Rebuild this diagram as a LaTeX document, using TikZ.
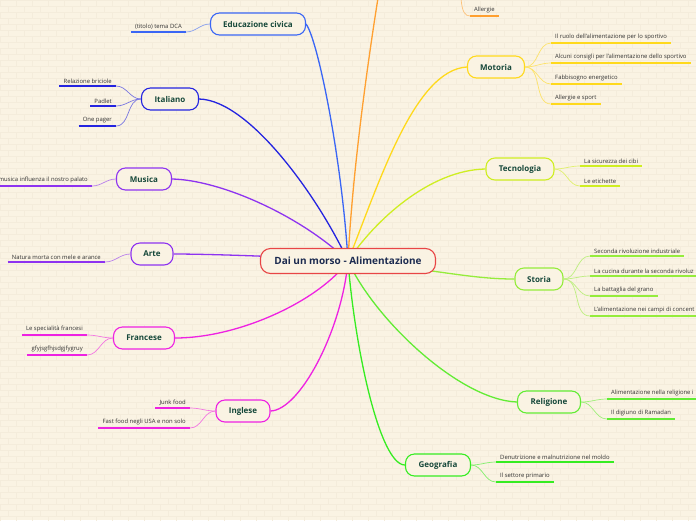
\documentclass[tikz,border=0pt]{standalone}
\usepackage{fontspec}
\setmainfont{Open Sans}
\definecolor{bg}{HTML}{FAF3E3}
\definecolor{brick}{HTML}{F4ECDB}
\definecolor{cRed}{HTML}{E84545}
\definecolor{cEdu}{HTML}{3A66F5}
\definecolor{cIta}{HTML}{2424E0}
\definecolor{cMus}{HTML}{8E33F0}
\definecolor{cFra}{HTML}{EE22E2}
\definecolor{cOra}{HTML}{FFA030}
\definecolor{cMot}{HTML}{FFD91C}
\definecolor{cTec}{HTML}{CFEE22}
\definecolor{cSto}{HTML}{95EC3C}
\definecolor{cRel}{HTML}{62EC34}
\definecolor{cGeo}{HTML}{36EC22}
\definecolor{lab}{HTML}{16483A}
\definecolor{ctxt}{HTML}{1C2B50}
\definecolor{leaftxt}{HTML}{333333}
\begin{document}
\begin{tikzpicture}[x=1pt,y=-1pt,
  topic/.style={draw=#1, line width=1.1pt, fill=bg, rounded corners=9pt, minimum height=22pt, inner xsep=4pt, font=\fontsize{8}{9}\selectfont\bfseries, text=lab},
  leaf/.style={inner xsep=4pt, inner ysep=2.4pt, font=\fontsize{5.9}{7}\selectfont, text=leaftxt},
  ul/.style={draw=#1, line width=1.7pt},
  br/.style={draw=#1, line width=1.3pt},
  tw/.style={draw=#1!60!bg, line width=0.7pt}
]
\fill[bg] (0,0) rectangle (696,520);
\useasboundingbox (0,0) rectangle (696,520);
\clip (0,0) rectangle (696,520);
% faint brick background
\foreach \r in {0,...,87} {
  \pgfmathsetmacro{\yy}{\r*6}
  \pgfmathsetmacro{\off}{mod(\r,2)*8}
  \draw[brick, line width=0.5pt] (0,\yy) -- (696,\yy);
  \foreach \k in {0,...,44} {
    \draw[brick, line width=0.5pt] (\k*16+\off,\yy) -- (\k*16+\off,\yy+6);
  }
}

\coordinate (cc) at (348,261);
\coordinate (ot) at (378,-2);
\coordinate (ao) at (461,-2);

% topics
\node[topic=cEdu, minimum width=95pt] (edu) at (258,24) {Educazione civica};
\node[topic=cIta, minimum width=57pt] (ita) at (170,99) {Italiano};
\node[topic=cMus, minimum width=55pt] (mus) at (144,179) {Musica};
\node[topic=cMus, minimum width=42pt] (art) at (152,254) {Arte};
\node[topic=cFra, minimum width=61pt] (fra) at (144,338) {Francese};
\node[topic=cFra, minimum width=54pt] (ing) at (243,411) {Inglese};
\node[topic=cMot, minimum width=57pt] (mot) at (496,67) {Motoria};
\node[topic=cTec, minimum width=68pt] (tec) at (520,169) {Tecnologia};
\node[topic=cSto, minimum width=48pt] (sto) at (539,279) {Storia};
\node[topic=cRel, minimum width=63pt] (rel) at (549,402) {Religione};
\node[topic=cGeo, minimum width=65pt] (geo) at (438,465) {Geografia};

% main branches
\draw[br=cEdu] (cc) .. controls (342,160) and (318,40) .. (edu.east);
\draw[br=cIta] (cc) .. controls (320,200) and (250,100) .. (ita.east);
\draw[br=cMus] (cc) .. controls (300,215) and (220,180) .. (mus.east);
\draw[br=cMus] (cc) .. controls (300,257) and (210,254) .. (art.east);
\draw[br=cFra] (cc) .. controls (320,300) and (240,338) .. (fra.east);
\draw[br=cFra] (cc) .. controls (342,330) and (300,410) .. (ing.east);
\draw[br=cOra] (cc) .. controls (352,180) and (365,80) .. (ot);
\draw[br=cMot] (cc) .. controls (380,180) and (415,70) .. (mot.west);
\draw[br=cTec] (cc) .. controls (375,220) and (430,170) .. (tec.west);
\draw[br=cSto] (cc) .. controls (440,270) and (470,279) .. (sto.west);
\draw[br=cRel] (cc) .. controls (375,320) and (460,400) .. (rel.west);
\draw[br=cGeo] (cc) .. controls (355,350) and (380,465) .. (geo.west);

\node[draw=cRed, line width=1.1pt, fill=bg, rounded corners=10pt, minimum width=175pt, minimum height=25pt, font=\fontsize{10}{12}\selectfont\bfseries, text=ctxt] (c) at (cc) {Dai un morso - Alimentazione};

% leaves left
\node[leaf, anchor=south east] (e1) at (186,32) {(titolo) tema DCA};
\node[leaf, anchor=south east] (i1) at (116,86) {Relazione briciole};
\node[leaf, anchor=south east] (i2) at (116,106) {Padlet};
\node[leaf, anchor=south east] (i3) at (116,126) {One pager};
\node[leaf, anchor=south east] (m1) at (92,186) {musica influenza il nostro palato};
\node[leaf, anchor=south east] (a1) at (105,262) {Natura morta con mele e arance};
\node[leaf, anchor=south east] (f1) at (87,335) {Le specialità francesi};
\node[leaf, anchor=south east] (f2) at (87,355) {gfyjsgfhjsdgjfygruy};
\node[leaf, anchor=south east] (n1) at (190,408) {Junk food};
\node[leaf, anchor=south east] (n2) at (190,428) {Fast food negli USA e non solo};

% leaves right
\node[leaf, anchor=south west] (al) at (470,16) {Allergie};
\node[leaf, anchor=south west] (o1) at (551,43) {Il ruolo dell'alimentazione per lo sportivo};
\node[leaf, anchor=south west] (o2) at (551,63) {Alcuni consigli per l'alimentazione dello sportivo};
\node[leaf, anchor=south west] (o3) at (551,84) {Fabbisogno energetico};
\node[leaf, anchor=south west] (o4) at (551,104) {Allergie e sport};
\node[leaf, anchor=south west] (t1) at (580,166) {La sicurezza dei cibi};
\node[leaf, anchor=south west] (t2) at (580,186) {Le etichette};
\node[leaf, anchor=south west] (s1) at (590,256) {Seconda rivoluzione industriale};
\node[leaf, anchor=south west] (s2) at (590,276) {La cucina durante la seconda rivoluz};
\node[leaf, anchor=south west] (s3) at (590,296) {La battaglia del grano};
\node[leaf, anchor=south west] (s4) at (590,316) {L'alimentazione nei campi di concent};
\node[leaf, anchor=south west] (r1) at (607,399) {Alimentazione nella religione i};
\node[leaf, anchor=south west] (r2) at (607,419) {Il digiuno di Ramadan};
\node[leaf, anchor=south west] (g1) at (496,462) {Denutrizione e malnutrizione nel moldo};
\node[leaf, anchor=south west] (g2) at (496,482) {Il settore primario};

% underlines
\foreach \n/\c in {e1/cEdu,i1/cIta,i2/cIta,i3/cIta,m1/cMus,a1/cMus,f1/cFra,f2/cFra,n1/cFra,n2/cFra,al/cOra,o1/cMot,o2/cMot,o3/cMot,o4/cMot,t1/cTec,t2/cTec,s1/cSto,s2/cSto,s3/cSto,s4/cSto,r1/cRel,r2/cRel,g1/cGeo,g2/cGeo}
  \draw[ul=\c] (\n.south west) -- (\n.south east);

% twigs left
\foreach \p/\n/\c in {edu/e1/cEdu,ita/i1/cIta,ita/i2/cIta,ita/i3/cIta,mus/m1/cMus,art/a1/cMus,fra/f1/cFra,fra/f2/cFra,ing/n1/cFra,ing/n2/cFra}
  \draw[tw=\c] (\p.west) to[out=180,in=0] (\n.south east);
% twigs right
\foreach \p/\n/\c in {mot/o1/cMot,mot/o2/cMot,mot/o3/cMot,mot/o4/cMot,tec/t1/cTec,tec/t2/cTec,sto/s1/cSto,sto/s2/cSto,sto/s3/cSto,sto/s4/cSto,rel/r1/cRel,rel/r2/cRel,geo/g1/cGeo,geo/g2/cGeo}
  \draw[tw=\c] (\p.east) to[out=0,in=180] (\n.south west);
\draw[tw=cOra] (ao) .. controls (462,12) and (465,16) .. (al.south west);
\end{tikzpicture}
\end{document}
